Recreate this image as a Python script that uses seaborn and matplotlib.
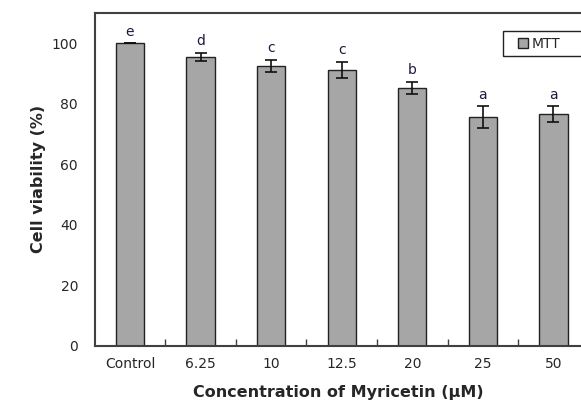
import matplotlib
matplotlib.use("Agg")
import matplotlib.pyplot as plt
import seaborn as sns
import pandas as pd
from matplotlib.patches import Patch, Rectangle

categories = ["Control", "6.25", "10", "12.5", "20", "25", "50"]
viability = [100.0, 95.4, 92.6, 91.2, 85.3, 75.6, 76.6]
errors = [0.0, 1.4, 2.0, 2.6, 2.0, 3.6, 2.5]
letters = ["e", "d", "c", "c", "b", "a", "a"]
yticks = [0, 20, 40, 60, 80, 100]

sns.set_theme(style="white")
plt.rcParams["font.family"] = ["DejaVu Sans"]

df = pd.DataFrame({"conc": categories, "viability": viability})

fig = plt.figure(figsize=(5.81, 4.05), dpi=100)
ax = fig.add_axes([0.163, 0.146, 0.837, 0.822])

sns.barplot(data=df, x="conc", y="viability", order=categories, color="#a6a6a6",
            saturation=1, width=0.4, edgecolor="#222222", linewidth=1.0, errorbar=None, ax=ax)
ax.errorbar(x=list(range(len(categories))), y=viability, yerr=errors, fmt="none",
            ecolor="#111111", elinewidth=1.2, capsize=4, capthick=1.2)

for i, (v, e, l) in enumerate(zip(viability, errors, letters)):
    ax.text(i, v + e + 1.5, l, ha="center", va="bottom", fontsize=10, color="#1a1a40")

ax.set_xlim(-0.5, 6.39)
ax.set_ylim(0, 110)
ax.set_yticks(yticks)
ax.set_yticklabels([str(t) for t in yticks], fontsize=10)
ax.set_xticks(range(len(categories)))
ax.set_xticklabels(categories, fontsize=10)
ax.tick_params(axis="x", length=0, pad=8)
ax.tick_params(axis="y", direction="in", length=4, width=1, color="#404040", pad=12)
ax.set_xticks([i + 0.5 for i in range(len(categories) - 1)], minor=True)
ax.tick_params(axis="x", which="minor", direction="in", length=5, width=1, color="#404040", bottom=True)

for s in ["left", "bottom", "top"]:
    ax.spines[s].set_color("#404040")
    ax.spines[s].set_linewidth(1.5)
ax.spines["right"].set_visible(False)

ax.set_ylabel("Cell viability (%)", fontsize=11.5, fontweight="bold", labelpad=4)
ax.set_xlabel("Concentration of Myricetin (μM)", fontsize=11.5, fontweight="bold", labelpad=10)

# legend frame running off the right edge, as in the reference
frame = Rectangle((503 / 581, 1 - 56 / 405), 90 / 581, 25 / 405,
                  transform=fig.transFigure, facecolor="white", edgecolor="#222222",
                  linewidth=1.0, zorder=4, clip_on=False)
ax.add_patch(frame)

leg = ax.legend(handles=[Patch(facecolor="#a6a6a6", edgecolor="#222222", label="MTT")],
                loc="upper left", bbox_to_anchor=(0.882, 0.922), bbox_transform=fig.transFigure,
                frameon=False,
                fontsize=10, handlelength=0.7, handleheight=0.7, handletextpad=0.3,
                borderpad=0.4, borderaxespad=0)
leg.set_zorder(6)

fig.savefig("out.png", dpi=100)
